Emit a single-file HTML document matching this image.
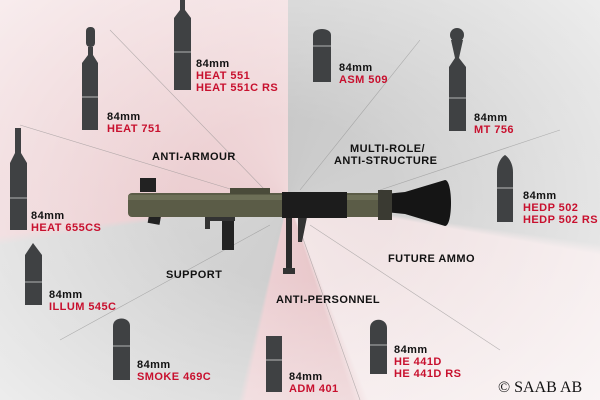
<!DOCTYPE html>
<html><head><meta charset="utf-8"><style>
html,body{margin:0;padding:0}
#c{position:relative;width:600px;height:400px;overflow:hidden;
background:conic-gradient(from 0deg at 288px 200px,#c9c9c9 0deg,#d2d2d2 98deg,#f0e2e3 100deg,#f3e6e7 158deg,#e9c9cc 162deg,#eccfd2 192deg,#cfcfcf 194deg,#d4d4d4 261deg,#ebcdd0 263deg,#f1d9db 360deg);font-family:"Liberation Sans",Arial,sans-serif}
#ov{position:absolute;left:0;top:0;width:600px;height:400px;background:radial-gradient(ellipse 420px 320px at 288px 200px,rgba(255,255,255,0) 25%,rgba(255,255,255,0.65) 100%)}
.t{position:absolute;font-weight:bold;font-size:11px;line-height:12px;color:#111;white-space:nowrap;letter-spacing:0.45px}
.r{color:#c8102e}
svg{position:absolute;left:0;top:0}
</style></head><body><div id="c"><div id="ov"></div>
<svg width="600" height="400" viewBox="0 0 600 400">
<g stroke="#8a8a8a" stroke-width="0.6" opacity="0.6">
<line x1="110" y1="30" x2="265" y2="190"/><line x1="20" y1="125" x2="250" y2="195"/>
<line x1="420" y1="40" x2="300" y2="190"/><line x1="560" y1="130" x2="380" y2="190"/>
<line x1="310" y1="225" x2="500" y2="350"/><line x1="300" y1="230" x2="360" y2="400"/>
<line x1="60" y1="340" x2="270" y2="225"/>
</g>
<g fill="#3f4143">
<path d="M180 0h5v10l6 8v72h-17v-72l6-8z"/>
<rect x="86" y="27" width="9" height="20" rx="4"/><path d="M88 47h5v8l5 8v67h-16v-67l6-8z"/>
<path d="M15 128h6v25l6 10v67h-17v-67l5-10z"/>
<path d="M313 82v-47c0-8 18-8 18 0v47z"/>
<circle cx="457" cy="35" r="7"/><path d="M451 40h12l-4 18l7 9v64h-17v-64l6-9z"/>
<path d="M497 222v-50c0-10 6-16 8-17c2 1 8 7 8 17v50z"/>
<path d="M25 305v-50l8-12l9 12v50z"/>
<path d="M113 380v-54c0-10 17-10 17 0v54z"/>
<rect x="266" y="336" width="16" height="56"/>
<path d="M370 374v-46c0-11 17-11 17 0v46z"/>
</g>
<g stroke="#d8d8d8" stroke-width="0.8">
<line x1="174" y1="52" x2="191" y2="52"/><line x1="82" y1="97" x2="98" y2="97"/>
<line x1="10" y1="198" x2="27" y2="198"/><line x1="313" y1="46" x2="331" y2="46"/>
<line x1="449" y1="98" x2="466" y2="98"/><line x1="497" y1="188" x2="513" y2="188"/>
<line x1="25" y1="282" x2="42" y2="282"/><line x1="113" y1="346" x2="130" y2="346"/>
<line x1="266" y1="360" x2="282" y2="360"/><line x1="370" y1="345" x2="387" y2="345"/>
</g>
<rect x="150" y="196" width="12" height="28" fill="#222" transform="rotate(10 156 210)"/>
<rect x="222" y="216" width="12" height="34" fill="#222"/>
<path d="M205 215h30v6h-25v8h-5z" fill="#333"/>
<rect x="286" y="212" width="6" height="62" fill="#2a2a2a"/><rect x="283" y="268" width="12" height="6" fill="#333"/>
<path d="M298 212l10 0l-6 30h-4z" fill="#333"/>
<rect x="140" y="178" width="16" height="14" fill="#222"/>
<rect x="128" y="193" width="260" height="24" rx="4" fill="#5b5c47"/>
<rect x="128" y="195" width="260" height="5" fill="#7a7b63" opacity="0.6"/>
<rect x="282" y="192" width="65" height="26" fill="#1c1c1c"/>
<rect x="230" y="188" width="40" height="6" fill="#4a4b3a"/>
<path d="M385 194l20 -2l40 -12c8 0 8 46 0 46l-40 -12l-20 -2z" fill="#151515"/>
<rect x="378" y="190" width="14" height="30" fill="#3a3a32"/>
</svg>
<div class="t" style="left:196px;top:58px">84mm<br><span class="r">HEAT 551<br>HEAT 551C RS</span></div>
<div class="t" style="left:107px;top:111px">84mm<br><span class="r">HEAT 751</span></div>
<div class="t" style="left:152px;top:151px">ANTI-ARMOUR</div>
<div class="t" style="left:339px;top:62px">84mm<br><span class="r">ASM 509</span></div>
<div class="t" style="left:474px;top:112px">84mm<br><span class="r">MT 756</span></div>
<div class="t" style="left:350px;top:143px">MULTI-ROLE/</div>
<div class="t" style="left:334px;top:155px">ANTI-STRUCTURE</div>
<div class="t" style="left:523px;top:190px">84mm<br><span class="r">HEDP 502<br>HEDP 502 RS</span></div>
<div class="t" style="left:31px;top:210px">84mm<br><span class="r">HEAT 655CS</span></div>
<div class="t" style="left:166px;top:269px">SUPPORT</div>
<div class="t" style="left:49px;top:289px">84mm<br><span class="r">ILLUM 545C</span></div>
<div class="t" style="left:137px;top:359px">84mm<br><span class="r">SMOKE 469C</span></div>
<div class="t" style="left:276px;top:294px">ANTI-PERSONNEL</div>
<div class="t" style="left:388px;top:253px">FUTURE AMMO</div>
<div class="t" style="left:394px;top:344px">84mm<br><span class="r">HE 441D<br>HE 441D RS</span></div>
<div class="t" style="left:289px;top:371px">84mm<br><span class="r">ADM 401</span></div>
<div style="position:absolute;left:498px;top:379px;font-family:'Liberation Serif',serif;font-size:16px;line-height:18px;color:#111">© SAAB AB</div>
</div></body></html>
